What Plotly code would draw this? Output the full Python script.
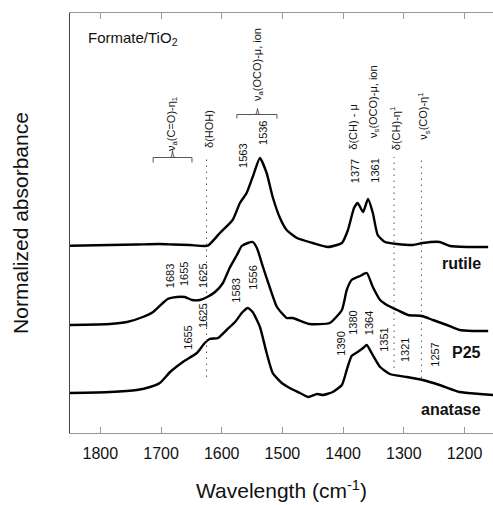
import plotly.graph_objects as go

# ---- spectra (wavenumber in cm-1, normalized absorbance incl. stacking offset) ----
rutile_wn = [1850, 1784, 1740, 1702, 1680, 1652, 1623, 1603, 1582, 1570, 1559, 1549,
             1537, 1526, 1516, 1504, 1493, 1476, 1450, 1425, 1402, 1392, 1382, 1376,
             1367, 1359, 1351, 1343, 1331, 1311, 1285, 1269, 1241, 1224, 1196, 1161]
rutile_abs = [1.873, 1.88, 1.885, 1.89, 1.885, 1.88, 1.873, 2.00, 2.13, 2.30, 2.40, 2.56,
              2.75, 2.60, 2.36, 2.15, 2.03, 1.95, 1.90, 1.86, 1.90, 2.03, 2.25, 2.30,
              2.21, 2.34, 2.20, 1.98, 1.91, 1.89, 1.88, 1.90, 1.91, 1.87, 1.86, 1.86]

p25_wn = [1850, 1784, 1756, 1730, 1713, 1697, 1689, 1674, 1661, 1649, 1636, 1624,
          1611, 1598, 1587, 1575, 1567, 1557, 1549, 1542, 1532, 1521, 1509, 1493,
          1483, 1455, 1422, 1402, 1394, 1386, 1372, 1361, 1351, 1339, 1328, 1311,
          1293, 1270, 1252, 1229, 1208, 1186, 1161]
p25_abs = [1.08, 1.09, 1.11, 1.16, 1.21, 1.30, 1.34, 1.36, 1.36, 1.33, 1.33, 1.36,
           1.41, 1.50, 1.65, 1.78, 1.87, 1.90, 1.91, 1.85, 1.66, 1.46, 1.26, 1.15,
           1.15, 1.09, 1.10, 1.23, 1.43, 1.53, 1.57, 1.60, 1.46, 1.33, 1.28, 1.23,
           1.18, 1.17, 1.13, 1.08, 1.03, 1.02, 1.02]

anatase_wn = [1850, 1784, 1740, 1718, 1702, 1685, 1664, 1641, 1628, 1620, 1606, 1592,
              1578, 1567, 1557, 1549, 1537, 1526, 1516, 1501, 1488, 1471, 1458, 1443,
              1433, 1417, 1402, 1394, 1386, 1376, 1367, 1361, 1353, 1339, 1323, 1295,
              1269, 1241, 1208, 1175, 1153]
anatase_abs = [0.40, 0.41, 0.43, 0.46, 0.50, 0.61, 0.71, 0.80, 0.90, 0.94, 0.95, 1.03,
               1.11, 1.20, 1.25, 1.21, 1.06, 0.80, 0.60, 0.50, 0.45, 0.40, 0.36, 0.39,
               0.38, 0.41, 0.48, 0.63, 0.77, 0.81, 0.85, 0.88, 0.80, 0.66, 0.59, 0.56,
               0.53, 0.48, 0.41, 0.39, 0.38]

sample_names = ["rutile", "P25", "anatase"]

# reference band positions drawn as dotted guides (cm-1)
guide_wn = [1625, 1316, 1271]

# peak labels: text, x (cm-1), y (bottom of rotated label)
peak_labels = [
    ("1563", 1565, 2.63), ("1536", 1532, 2.86),
    ("1377", 1380, 2.48), ("1361", 1348, 2.48),
    ("1683", 1685, 1.43), ("1655", 1662, 1.45), ("1625", 1631, 1.43),
    ("1583", 1577, 1.28), ("1556", 1549, 1.41),
    ("1625", 1631, 1.03), ("1655", 1656, 0.81),
    ("1390", 1404, 0.75), ("1380", 1384, 0.96), ("1364", 1357, 0.96),
    ("1351", 1333, 0.79), ("1321", 1298, 0.69), ("1257", 1249, 0.64),
]

# band assignments: text, x (cm-1), y (bottom of rotated label)
assignments = [
    ("ν<sub>a</sub>(C=O)-η<sub>1</sub>", 1682, 2.80),
    ("δ(HOH)", 1621, 2.83),
    ("ν<sub>a</sub>(OCO)-μ, ion", 1541, 3.30),
    ("δ(CH) - μ", 1385, 2.81),
    ("ν<sub>s</sub>(OCO)-μ, ion", 1350, 2.93),
    ("δ(CH)-η<sup>1</sup>", 1315, 2.81),
    ("ν<sub>s</sub>(CO)-η<sup>1</sup>", 1268, 2.91),
]

FONT = "Liberation Sans, Arial, sans-serif"

fig = go.Figure()
for wn, ab in [(rutile_wn, rutile_abs), (p25_wn, p25_abs), (anatase_wn, anatase_abs)]:
    fig.add_trace(go.Scatter(x=wn, y=ab, mode="lines",
                             line=dict(color="black", width=2.4, shape="spline", smoothing=0.5),
                             hoverinfo="skip"))

shapes = []
# dotted guides
guide_top = 2.76
guide_bottom = [0.56, 0.65, 0.55]
for g, yb in zip(guide_wn, guide_bottom):
    shapes.append(dict(type="line", xref="x", yref="y", x0=g, x1=g, y0=yb, y1=guide_top,
                       line=dict(color="#555", width=1, dash="1.5px,4.5px")))


def bracket(x_hi, x_lo, y, drop, xc, tip):
    path = f"M {x_hi},{y - drop} L {x_hi},{y} L {x_lo},{y} L {x_lo},{y - drop}"
    brace = (f"M {xc + 5},{y} Q {xc + 1},{y} {xc + 1},{y + tip * 0.4} "
             f"L {xc},{y + tip} L {xc - 1},{y + tip * 0.4} Q {xc - 1},{y} {xc - 5},{y}")
    return [dict(type="path", xref="x", yref="y", path=path, line=dict(color="#555", width=1)),
            dict(type="path", xref="x", yref="y", path=brace, line=dict(color="#555", width=1))]


shapes += bracket(1713, 1649, 2.755, 0.05, 1681, 0.07)
shapes += bracket(1575, 1509, 3.185, 0.04, 1541, 0.06)

annotations = []
for txt, x, y in peak_labels:
    annotations.append(dict(text=txt, x=x, y=y, xref="x", yref="y", textangle=-90,
                            xanchor="center", yanchor="bottom", showarrow=False,
                            font=dict(family=FONT, size=11, color="#111")))
for txt, x, y in assignments:
    annotations.append(dict(text=txt, x=x, y=y, xref="x", yref="y", textangle=-90,
                            xanchor="center", yanchor="bottom", showarrow=False,
                            font=dict(family=FONT, size=11, color="#111")))

# sample names
for name, y in zip(sample_names, [1.70, 0.81, 0.24]):
    annotations.append(dict(text=f"<b>{name}</b>", x=1169, y=y, xref="x", yref="y",
                            xanchor="right", yanchor="middle", showarrow=False,
                            font=dict(family=FONT, size=16, color="#111")))

annotations.append(dict(text="Formate/TiO<sub>2</sub>", x=1823, y=3.95, xref="x", yref="y",
                        xanchor="left", yanchor="middle", showarrow=False,
                        font=dict(family=FONT, size=15, color="#111")))

fig.update_layout(
    width=493, height=505,
    margin=dict(l=70, r=0, t=13, b=72),
    plot_bgcolor="white", paper_bgcolor="white",
    showlegend=False,
    shapes=shapes, annotations=annotations,
    font=dict(family=FONT, color="#111"),
)
fig.update_xaxes(
    range=[1850, 1153], tickvals=[1800, 1700, 1600, 1500, 1400, 1300, 1200],
    ticks="inside", ticklen=6, tickcolor="#999", tickwidth=1,
    showline=True, linecolor="#999", linewidth=1, mirror="ticks",
    showgrid=False, zeroline=False, ticklabelstandoff=6,
    tickfont=dict(family=FONT, size=16, color="#111"),
    title=dict(text="Wavelength (cm<sup>-1</sup>)", standoff=22,
               font=dict(family=FONT, size=21, color="#111")),
)
fig.update_yaxes(
    range=[0, 4.2], showticklabels=False, ticks="",
    showline=True, linecolor="#444", linewidth=1,
    showgrid=False, zeroline=False,
    title=dict(text="Normalized absorbance", standoff=34,
               font=dict(family=FONT, size=21, color="#111")),
)

fig.write_html("out.html")
